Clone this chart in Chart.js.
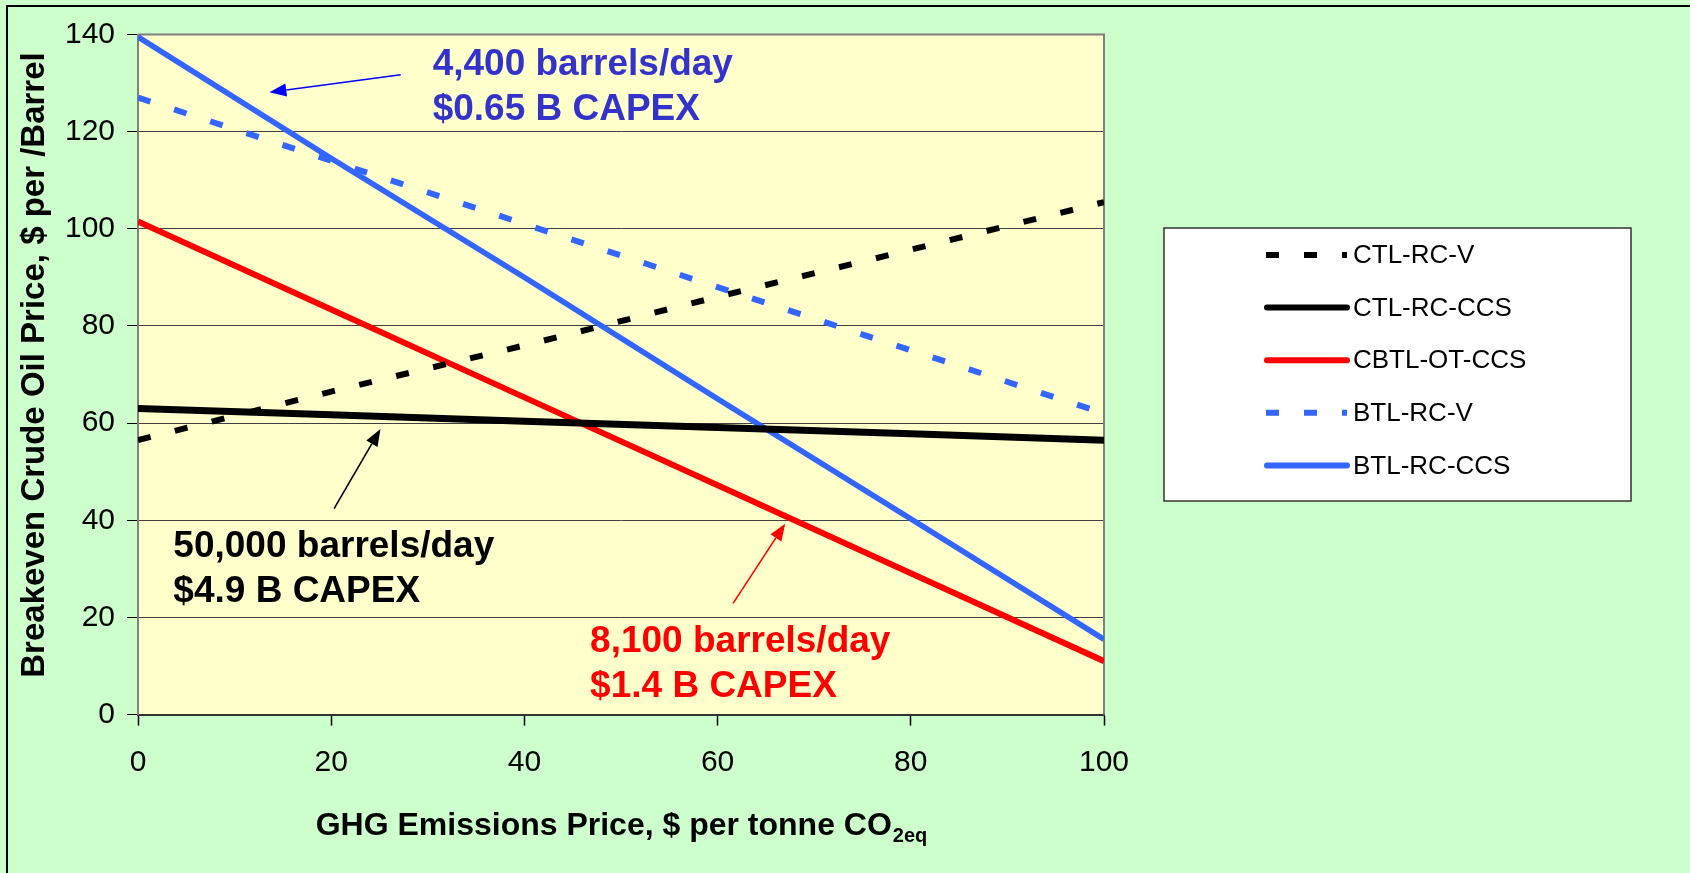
<!DOCTYPE html>
<html>
<head>
<meta charset="utf-8">
<script src="https://cdn.jsdelivr.net/npm/chart.js@4.4.0/dist/chart.umd.min.js"></script>
<style>
  html, body { margin: 0; padding: 0; background: #CCFFCC; }
  #wrap { width: 1690px; height: 873px; }
</style>
</head>
<body>
<div id="wrap"><canvas id="chart" width="1690" height="873"></canvas></div>
<script>
// GHG price ($/tonne CO2eq) and breakeven crude price ($/barrel)
var ghgPrice = [0, 20, 40, 60, 80, 100];
var ctlRcV = [56.5, 66.5, 76, 86, 95.7, 105.5];
var ctlRcCcs = [63, 61.7, 60.4, 59.1, 57.8, 56.5];
var cbtlOtCcs = [101.5, 83.4, 65.3, 47.2, 29.1, 11];
var btlRcV = [127, 114, 101, 88, 75, 62];
var btlRcCcs = [139.5, 114.5, 90, 65, 40.3, 15.5];
var seriesNames = ['CTL-RC-V', 'CTL-RC-CCS', 'CBTL-OT-CCS', 'BTL-RC-V', 'BTL-RC-CCS'];
var xTicks = [0, 20, 40, 60, 80, 100];
var yTicks = [0, 20, 40, 60, 80, 100, 120, 140];

// callouts, anchored in data units (x, baseline y of first line; arrow tail -> head)
var notes = [
  { lines: ['4,400 barrels/day', '$0.65 B CAPEX'], x: 30.5, y: 131.7, color: '#3333CC',
    arrow: [27.2, 131.7, 13.6, 128.1], arrowColor: '#0000FF' },
  { lines: ['50,000 barrels/day', '$4.9 B CAPEX'], x: 3.66, y: 32.5, color: '#000000',
    arrow: [20.3, 42.4, 25.1, 58.8], arrowColor: '#000000' },
  { lines: ['8,100 barrels/day', '$1.4 B CAPEX'], x: 46.8, y: 12.96, color: '#FF0000',
    arrow: [61.6, 22.9, 67.0, 39.3], arrowColor: '#FF0000' }
];

var FONT = "'Liberation Sans', Arial, sans-serif";
Chart.defaults.font.family = FONT;
Chart.defaults.color = '#000';

function pts(ys) {
  return ghgPrice.map(function (x, i) { return { x: x, y: ys[i] }; });
}

var backdrop = {
  id: 'backdrop',
  beforeDraw: function (chart) {
    var ctx = chart.ctx, a = chart.chartArea;
    ctx.save();
    ctx.fillStyle = '#CCFFCC';
    ctx.fillRect(0, 0, chart.width, chart.height);
    ctx.strokeStyle = '#000';
    ctx.lineWidth = 2;
    ctx.strokeRect(7, 6, chart.width + 20, chart.height + 20);
    ctx.fillStyle = '#FFFFCC';
    ctx.fillRect(a.left, a.top, a.right - a.left, a.bottom - a.top);
    ctx.restore();
  },
  beforeDatasetsDraw: function (chart) {
    var ctx = chart.ctx, a = chart.chartArea;
    ctx.save();
    ctx.strokeStyle = '#808080';
    ctx.lineWidth = 2;
    ctx.beginPath();
    ctx.moveTo(a.left, a.top);
    ctx.lineTo(a.right, a.top);
    ctx.lineTo(a.right, a.bottom);
    ctx.stroke();
    ctx.restore();
  }
};

var callouts = {
  id: 'callouts',
  afterDatasetsDraw: function (chart) {
    var ctx = chart.ctx, xs = chart.scales.x, ys = chart.scales.y;
    ctx.save();
    notes.forEach(function (n) {
      ctx.font = 'bold 37px ' + FONT;
      ctx.fillStyle = n.color;
      ctx.textAlign = 'left';
      ctx.textBaseline = 'alphabetic';
      var px = xs.getPixelForValue(n.x), py = ys.getPixelForValue(n.y);
      n.lines.forEach(function (t, k) { ctx.fillText(t, px, py + k * 45); });

      var x1 = xs.getPixelForValue(n.arrow[0]), y1 = ys.getPixelForValue(n.arrow[1]);
      var x2 = xs.getPixelForValue(n.arrow[2]), y2 = ys.getPixelForValue(n.arrow[3]);
      var ang = Math.atan2(y2 - y1, x2 - x1), hl = 17, hw = 6.5;
      var bx = x2 - hl * Math.cos(ang), by = y2 - hl * Math.sin(ang);
      ctx.strokeStyle = n.arrowColor;
      ctx.fillStyle = n.arrowColor;
      ctx.lineWidth = 1.6;
      ctx.beginPath();
      ctx.moveTo(x1, y1);
      ctx.lineTo(bx, by);
      ctx.stroke();
      ctx.beginPath();
      ctx.moveTo(x2, y2);
      ctx.lineTo(bx + hw * Math.sin(ang), by - hw * Math.cos(ang));
      ctx.lineTo(bx - hw * Math.sin(ang), by + hw * Math.cos(ang));
      ctx.closePath();
      ctx.fill();
    });

    // axis titles (x title carries a subscript)
    var a = chart.chartArea;
    var main = 'GHG Emissions Price, $ per tonne CO', sub = '2eq';
    ctx.font = 'bold 32px ' + FONT;
    var w1 = ctx.measureText(main).width;
    ctx.font = 'bold 20px ' + FONT;
    var w2 = ctx.measureText(sub).width;
    var sx = (a.left + a.right) / 2 - (w1 + w2) / 2, base = 834.5;
    ctx.fillStyle = '#000';
    ctx.font = 'bold 32px ' + FONT;
    ctx.fillText(main, sx, base);
    ctx.font = 'bold 20px ' + FONT;
    ctx.fillText(sub, sx + w1 + 1, base + 7);

    ctx.translate(35, 365);
    ctx.rotate(-Math.PI / 2);
    ctx.font = 'bold 33px ' + FONT;
    ctx.textAlign = 'center';
    ctx.textBaseline = 'middle';
    ctx.fillText('Breakeven Crude Oil Price, $ per /Barrel', 0, 0);
    ctx.restore();
  }
};

var legendBox = {
  id: 'legendBox',
  afterDraw: function (chart) {
    var ctx = chart.ctx;
    ctx.save();
    ctx.fillStyle = '#FFFFFF';
    ctx.fillRect(1164, 228, 467, 273);
    ctx.strokeStyle = '#333';
    ctx.lineWidth = 1.5;
    ctx.strokeRect(1164, 228, 467, 273);
    chart.data.datasets.forEach(function (ds, i) {
      var y = 255 + i * 52.6;
      ctx.strokeStyle = ds.borderColor;
      ctx.lineWidth = 6;
      ctx.setLineDash(ds.borderDash || []);
      ctx.lineCap = ds.borderDash ? 'butt' : 'round';
      ctx.beginPath();
      ctx.moveTo(ds.borderDash ? 1266 : 1267, y);
      ctx.lineTo(1347, y);
      ctx.stroke();
      ctx.setLineDash([]);
      ctx.fillStyle = '#000';
      ctx.font = '26px ' + FONT;
      ctx.textAlign = 'left';
      ctx.textBaseline = 'middle';
      ctx.fillText(ds.label, 1353, y + 1);
    });
    ctx.restore();
  }
};

var ctx = document.getElementById('chart').getContext('2d');
var myChart = new Chart(ctx, {
  type: 'line',
  data: {
    datasets: [{
      label: seriesNames[0],
      data: pts(ctlRcV),
      borderColor: '#000000',
      borderDash: [13, 25],
      borderWidth: 6,
    }, {
      label: seriesNames[1],
      data: pts(ctlRcCcs),
      borderColor: '#000000',
      borderWidth: 7,
    }, {
      label: seriesNames[2],
      data: pts(cbtlOtCcs),
      borderColor: '#FF0000',
      borderWidth: 6,
    }, {
      label: seriesNames[3],
      data: pts(btlRcV),
      borderColor: '#3366FF',
      borderDash: [13, 25],
      borderWidth: 6,
    }, {
      label: seriesNames[4],
      data: pts(btlRcCcs),
      borderColor: '#3366FF',
      borderWidth: 5.5,
    }],
  },
  options: {
    responsive: false,
    animation: false,
    devicePixelRatio: 1,
    layout: { padding: { left: 8, top: 34.5, right: 586, bottom: 0 } },
    elements: {
      point: { radius: 0 },
      line: { tension: 0, borderCapStyle: 'butt' },
    },
    plugins: {
      legend: { display: false },
      tooltip: { enabled: false },
    },
    scales: {
      x: {
        type: 'linear',
        min: 0,
        max: 100,
        afterBuildTicks: function (s) { s.ticks = xTicks.map(function (v) { return { value: v }; }); },
        afterFit: function (s) { s.height = 873 - 714.6; },
        ticks: { font: { size: 30 }, color: '#000', padding: 19, maxRotation: 0 },
        grid: { drawOnChartArea: false, drawTicks: true, tickLength: 11, tickColor: '#000', tickWidth: 1.5 },
        border: { color: '#333', width: 2 },
      },
      y: {
        min: 0,
        max: 140,
        afterBuildTicks: function (s) { s.ticks = yTicks.map(function (v) { return { value: v }; }); },
        afterFit: function (s) { s.width = 130; },
        ticks: { font: { size: 30 }, color: '#000', padding: 12 },
        grid: { color: '#404040', lineWidth: 1, tickLength: 11, tickColor: '#000' },
        border: { color: '#808080', width: 2 },
      },
    },
  },
  plugins: [backdrop, callouts, legendBox],
});
</script>
</body>
</html>
